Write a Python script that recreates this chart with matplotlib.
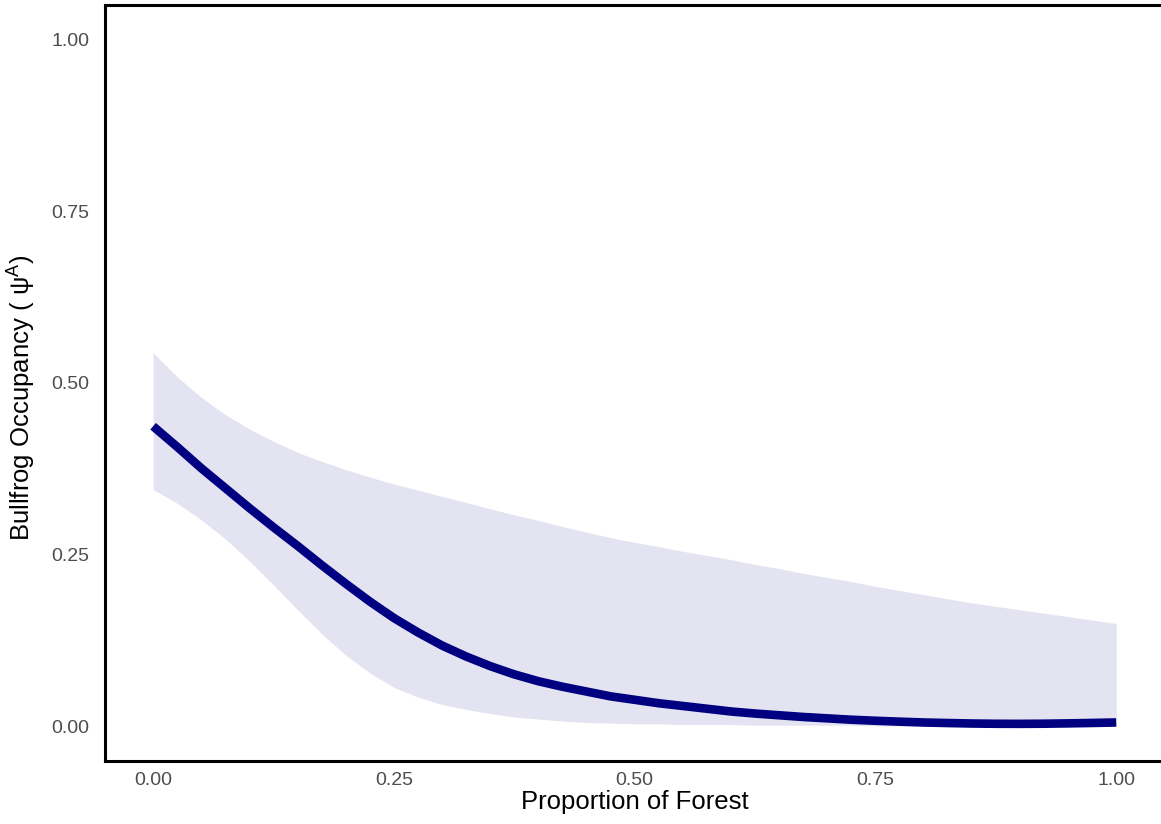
import numpy as np
import matplotlib.pyplot as plt

plt.rcParams['font.family'] = ['Liberation Sans', 'DejaVu Sans']
plt.rcParams['mathtext.fontset'] = 'custom'
plt.rcParams['mathtext.rm'] = 'Liberation Sans'
plt.rcParams['mathtext.it'] = 'Liberation Sans:italic'

# proportion of forest (0 to 1 by 0.025)
forest = [0.0, 0.025, 0.05, 0.075, 0.1, 0.125, 0.15, 0.175, 0.2, 0.225,
          0.25, 0.275, 0.3, 0.325, 0.35, 0.375, 0.4, 0.425, 0.45, 0.475,
          0.5, 0.525, 0.55, 0.575, 0.6, 0.625, 0.65, 0.675, 0.7, 0.725,
          0.75, 0.775, 0.8, 0.825, 0.85, 0.875, 0.9, 0.925, 0.95, 0.975, 1.0]

# predicted occupancy and 95% interval
psi = [0.437, 0.407, 0.376, 0.347, 0.318, 0.290, 0.263, 0.235, 0.208, 0.182,
       0.158, 0.137, 0.118, 0.102, 0.088, 0.076, 0.066, 0.058, 0.051, 0.044,
       0.039, 0.034, 0.030, 0.026, 0.022, 0.019, 0.0165, 0.014, 0.012, 0.010,
       0.0085, 0.0072, 0.006, 0.0052, 0.0045, 0.0041, 0.004, 0.0042, 0.0047, 0.0053, 0.006]
psi_upper = [0.544, 0.509, 0.479, 0.454, 0.433, 0.415, 0.399, 0.386, 0.374, 0.363,
             0.353, 0.344, 0.335, 0.326, 0.317, 0.308, 0.300, 0.291, 0.283, 0.275,
             0.268, 0.262, 0.255, 0.249, 0.243, 0.236, 0.230, 0.223, 0.217, 0.211,
             0.204, 0.198, 0.192, 0.186, 0.180, 0.175, 0.170, 0.165, 0.160, 0.155, 0.150]
psi_lower = [0.345, 0.325, 0.301, 0.273, 0.241, 0.206, 0.170, 0.135, 0.104, 0.078,
             0.057, 0.043, 0.032, 0.025, 0.019, 0.014, 0.011, 0.008, 0.006, 0.005,
             0.004, 0.004, 0.003, 0.003, 0.003, 0.002, 0.002, 0.002, 0.002, 0.002,
             0.001, 0.001, 0.001, 0.001, 0.001, 0.001, 0.001, 0.001, 0.001, 0.001, 0.001]

x_ticks = [0.0, 0.25, 0.5, 0.75, 1.0]
y_ticks = [0.0, 0.25, 0.5, 0.75, 1.0]

fig = plt.figure(figsize=(11.61, 8.24), dpi=100)
# axes run slightly past the right edge, as in the original export
ax = fig.add_axes([0.0904, 0.0765, 0.9125, 0.9175])

ax.fill_between(forest, psi_lower, psi_upper, color='navy', alpha=0.11, linewidth=0)
ax.plot(forest, psi, color='navy', linewidth=6.2, solid_capstyle='butt',
        solid_joinstyle='round')

ax.set_xlim(-0.05, 1.05)
ax.set_ylim(-0.05, 1.05)
ax.set_xticks(x_ticks)
ax.set_yticks(y_ticks)
ax.set_xticklabels([f'{t:.2f}' for t in x_ticks])
ax.set_yticklabels([f'{t:.2f}' for t in y_ticks])
ax.tick_params(axis='both', length=0, labelsize=14, labelcolor='#4D4D4D')
ax.tick_params(axis='x', pad=8)
ax.tick_params(axis='y', pad=11)

for side in ['left', 'right', 'top', 'bottom']:
    ax.spines[side].set_linewidth(2.2)
    ax.spines[side].set_color('black')

ax.set_xlabel('Proportion of Forest', fontsize=18.5, labelpad=1)
ax.set_ylabel(r'Bullfrog Occupancy ( ψ$^{\mathrm{A}}$)', fontsize=18.5, labelpad=10)
ax.yaxis.label.set_y(0.48)

fig.savefig('out.png', dpi=100)
